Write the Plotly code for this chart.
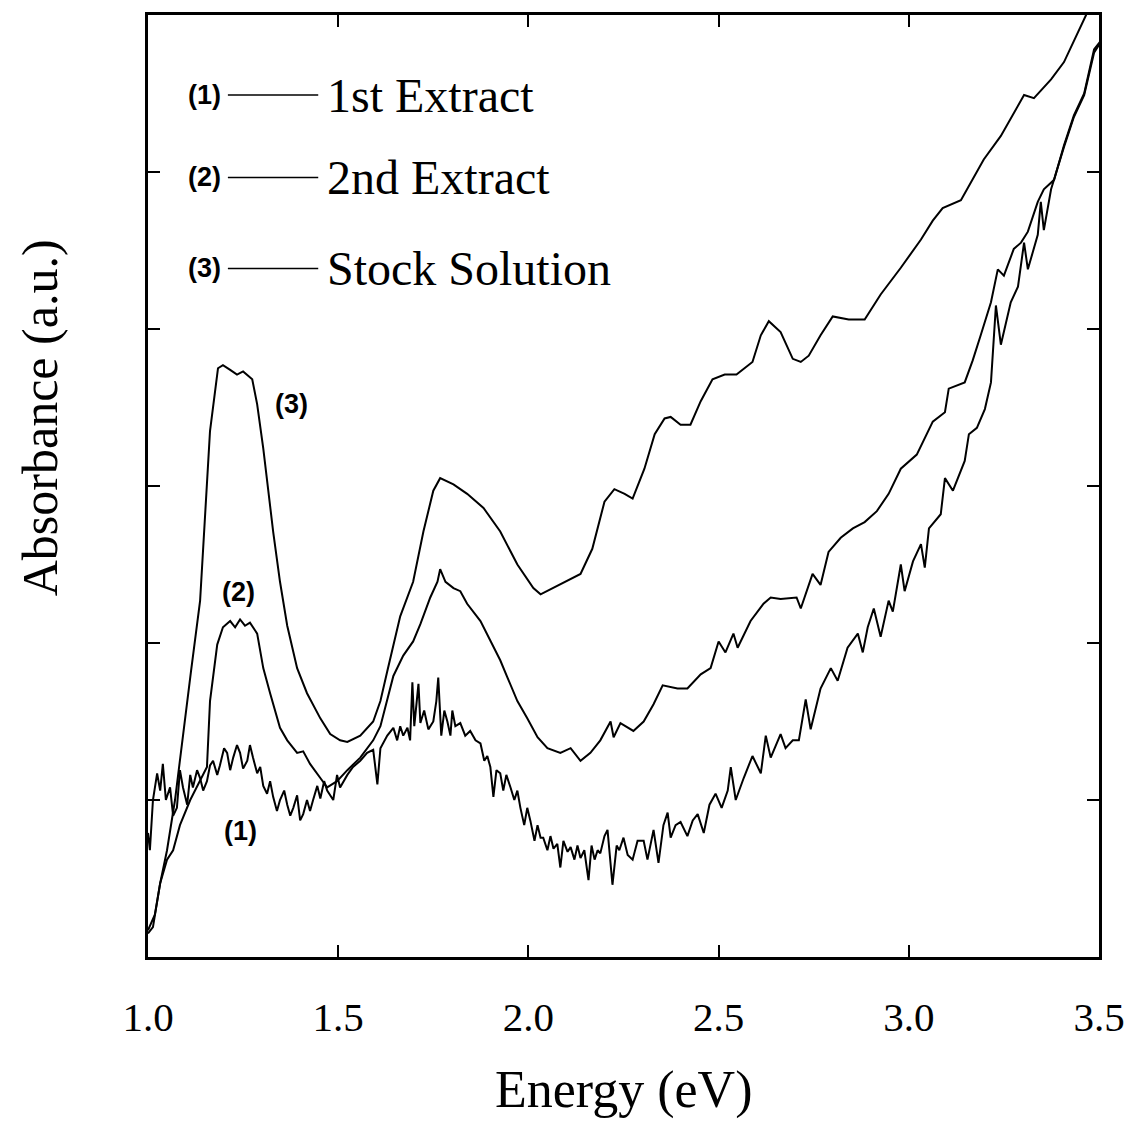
import plotly.graph_objects as go

# ---- data (Energy in eV, Absorbance in arbitrary units) ----
stock_E = [1.000, 1.018, 1.032, 1.050, 1.071, 1.092, 1.113, 1.137, 1.163, 1.184, 1.197, 1.216, 1.234, 1.250, 1.274,
           1.287, 1.303, 1.329, 1.347, 1.366, 1.392, 1.418, 1.453, 1.479, 1.505, 1.524, 1.558, 1.592, 1.611, 1.629,
           1.663, 1.697, 1.724, 1.750, 1.768, 1.803, 1.839, 1.882, 1.926, 1.971, 2.013, 2.032, 2.063, 2.095, 2.137,
           2.168, 2.200, 2.226, 2.253, 2.274, 2.305, 2.332, 2.358, 2.374, 2.400, 2.426, 2.453, 2.484, 2.516, 2.547,
           2.589, 2.611, 2.632, 2.663, 2.695, 2.716, 2.737, 2.768, 2.800, 2.842, 2.884, 2.926, 2.979, 3.032, 3.063,
           3.089, 3.137, 3.197, 3.242, 3.303, 3.329, 3.374, 3.408, 3.466, 3.505]
stock_A = [0.17, 0.27, 0.47, 0.68, 1.00, 1.42, 1.82, 2.27, 3.35, 3.75, 3.77, 3.74, 3.71, 3.73, 3.68,
           3.52, 3.24, 2.71, 2.39, 2.11, 1.84, 1.68, 1.52, 1.42, 1.38, 1.37, 1.41, 1.50, 1.63, 1.82,
           2.17, 2.39, 2.71, 2.97, 3.05, 3.01, 2.95, 2.86, 2.71, 2.50, 2.35, 2.31, 2.35, 2.39, 2.44,
           2.60, 2.90, 2.98, 2.95, 2.92, 3.11, 3.33, 3.43, 3.44, 3.39, 3.39, 3.54, 3.68, 3.71, 3.71,
           3.79, 3.96, 4.05, 3.98, 3.81, 3.79, 3.83, 3.96, 4.08, 4.06, 4.06, 4.22, 4.39, 4.57, 4.69,
           4.77, 4.82, 5.08, 5.23, 5.49, 5.47, 5.59, 5.70, 6.00, 6.17]

second_E = [1.000, 1.013, 1.032, 1.050, 1.066, 1.084, 1.111, 1.137, 1.155, 1.163, 1.182, 1.197, 1.216, 1.229, 1.242,
            1.255, 1.268, 1.287, 1.303, 1.321, 1.347, 1.366, 1.392, 1.408, 1.426, 1.453, 1.471, 1.497, 1.524, 1.558,
            1.592, 1.611, 1.629, 1.645, 1.671, 1.697, 1.716, 1.742, 1.761, 1.768, 1.782, 1.803, 1.821, 1.839, 1.874,
            1.900, 1.926, 1.945, 1.971, 1.997, 2.024, 2.050, 2.084, 2.111, 2.137, 2.163, 2.189, 2.216, 2.224, 2.242,
            2.276, 2.303, 2.329, 2.353, 2.392, 2.418, 2.453, 2.479, 2.500, 2.518, 2.539, 2.550, 2.584, 2.618, 2.637,
            2.663, 2.705, 2.716, 2.747, 2.768, 2.789, 2.821, 2.853, 2.884, 2.916, 2.947, 2.979, 3.021, 3.042, 3.063,
            3.095, 3.105, 3.147, 3.168, 3.189, 3.216, 3.234, 3.250, 3.276, 3.295, 3.313, 3.339, 3.355, 3.382, 3.408,
            3.434, 3.461, 3.487, 3.503]
second_A = [0.15, 0.19, 0.47, 0.62, 0.68, 0.84, 1.00, 1.12, 1.21, 1.63, 1.99, 2.10, 2.14, 2.10, 2.15,
            2.11, 2.13, 2.06, 1.84, 1.68, 1.46, 1.38, 1.30, 1.31, 1.23, 1.14, 1.08, 1.12, 1.19, 1.27,
            1.38, 1.47, 1.63, 1.79, 1.92, 2.01, 2.12, 2.29, 2.39, 2.47, 2.39, 2.35, 2.33, 2.25, 2.14,
            2.01, 1.89, 1.78, 1.63, 1.52, 1.40, 1.33, 1.30, 1.33, 1.25, 1.30, 1.38, 1.50, 1.40, 1.49,
            1.44, 1.50, 1.61, 1.73, 1.71, 1.71, 1.80, 1.84, 2.01, 1.94, 2.06, 1.97, 2.14, 2.25, 2.29,
            2.28, 2.29, 2.22, 2.44, 2.37, 2.58, 2.67, 2.73, 2.77, 2.84, 2.95, 3.11, 3.20, 3.30, 3.41,
            3.47, 3.62, 3.66, 3.80, 3.96, 4.17, 4.38, 4.34, 4.51, 4.55, 4.62, 4.81, 4.89, 4.95, 5.17,
            5.36, 5.50, 5.78, 5.83]

first_E = [1.000, 1.005, 1.013, 1.024, 1.032, 1.039, 1.047, 1.058, 1.066, 1.076, 1.084, 1.092, 1.103, 1.111, 1.118,
           1.129, 1.137, 1.145, 1.155, 1.163, 1.171, 1.182, 1.189, 1.200, 1.208, 1.216, 1.224, 1.234, 1.242, 1.250,
           1.261, 1.268, 1.276, 1.287, 1.295, 1.303, 1.313, 1.321, 1.329, 1.339, 1.347, 1.358, 1.366, 1.374, 1.382,
           1.392, 1.400, 1.408, 1.418, 1.426, 1.434, 1.445, 1.453, 1.463, 1.471, 1.487, 1.497, 1.505, 1.524, 1.539,
           1.558, 1.576, 1.592, 1.603, 1.611, 1.629, 1.645, 1.655, 1.663, 1.671, 1.682, 1.689, 1.695, 1.700, 1.711,
           1.716, 1.726, 1.737, 1.750, 1.758, 1.763, 1.771, 1.779, 1.787, 1.795, 1.800, 1.808, 1.821, 1.834, 1.847,
           1.861, 1.874, 1.884, 1.892, 1.900, 1.908, 1.916, 1.926, 1.934, 1.942, 1.953, 1.963, 1.971, 1.979, 1.989,
           1.997, 2.005, 2.016, 2.024, 2.032, 2.039, 2.050, 2.058, 2.066, 2.076, 2.084, 2.092, 2.103, 2.111, 2.121,
           2.129, 2.137, 2.147, 2.158, 2.166, 2.174, 2.182, 2.189, 2.200, 2.208, 2.221, 2.232, 2.239, 2.250, 2.261,
           2.274, 2.287, 2.303, 2.313, 2.329, 2.342, 2.355, 2.366, 2.374, 2.387, 2.400, 2.418, 2.432, 2.445, 2.461,
           2.476, 2.492, 2.508, 2.524, 2.532, 2.545, 2.566, 2.589, 2.611, 2.624, 2.637, 2.663, 2.676, 2.695, 2.711,
           2.729, 2.742, 2.768, 2.795, 2.813, 2.839, 2.866, 2.879, 2.892, 2.908, 2.926, 2.947, 2.958, 2.979, 2.989,
           3.011, 3.032, 3.042, 3.053, 3.084, 3.095, 3.116, 3.147, 3.158, 3.179, 3.200, 3.216, 3.229, 3.242, 3.268,
           3.287, 3.303, 3.313, 3.339, 3.347, 3.355, 3.374, 3.408, 3.434, 3.461, 3.487, 3.503]
first_A = [0.79, 0.68, 1.00, 1.17, 1.06, 1.23, 1.00, 1.08, 0.90, 0.95, 1.19, 1.08, 0.97, 1.16, 1.08,
           1.19, 1.14, 1.06, 1.12, 1.22, 1.25, 1.16, 1.22, 1.33, 1.30, 1.19, 1.27, 1.35, 1.30, 1.20,
           1.25, 1.35, 1.27, 1.17, 1.21, 1.09, 1.04, 1.12, 1.02, 0.93, 1.00, 1.06, 0.97, 0.90, 0.95,
           1.03, 0.87, 0.91, 1.00, 0.93, 1.00, 1.09, 1.01, 1.12, 1.06, 1.00, 1.16, 1.08, 1.16, 1.21,
           1.25, 1.30, 1.32, 1.10, 1.33, 1.41, 1.46, 1.38, 1.47, 1.41, 1.46, 1.38, 1.75, 1.47, 1.74,
           1.49, 1.57, 1.45, 1.50, 1.63, 1.78, 1.41, 1.57, 1.50, 1.41, 1.57, 1.47, 1.49, 1.41, 1.44,
           1.38, 1.36, 1.25, 1.28, 1.21, 1.02, 1.19, 1.17, 1.06, 1.16, 1.08, 1.00, 1.06, 0.95, 0.84,
           0.95, 0.87, 0.74, 0.84, 0.76, 0.76, 0.68, 0.77, 0.69, 0.72, 0.57, 0.74, 0.67, 0.70, 0.62,
           0.71, 0.63, 0.68, 0.49, 0.71, 0.62, 0.68, 0.66, 0.77, 0.81, 0.46, 0.71, 0.68, 0.76, 0.65,
           0.62, 0.74, 0.74, 0.62, 0.81, 0.60, 0.84, 0.92, 0.76, 0.84, 0.86, 0.77, 0.87, 0.91, 0.79,
           0.97, 1.04, 0.95, 1.06, 1.21, 1.00, 1.14, 1.28, 1.17, 1.41, 1.27, 1.42, 1.33, 1.38, 1.38,
           1.64, 1.45, 1.71, 1.84, 1.76, 1.97, 2.06, 1.94, 2.10, 2.22, 2.04, 2.27, 2.20, 2.50, 2.33,
           2.52, 2.63, 2.48, 2.73, 2.82, 3.05, 2.97, 3.16, 3.33, 3.37, 3.49, 3.66, 4.15, 3.90, 4.17,
           4.27, 4.55, 4.38, 4.60, 4.81, 4.63, 4.89, 5.16, 5.35, 5.49, 5.76, 5.82]

series_names = ["1st Extract", "2nd Extract", "Stock Solution"]
series_tags = ["(1)", "(2)", "(3)"]
x_tick_vals = [1.0, 1.5, 2.0, 2.5, 3.0, 3.5]
x_tick_text = ["1.0", "1.5", "2.0", "2.5", "3.0", "3.5"]
y_tick_vals = [0, 1, 2, 3, 4, 5, 6]

SERIF = "Liberation Serif, Times New Roman, serif"
SANS = "Liberation Sans, Arial, sans-serif"

fig = go.Figure()
for E, A, name in [(first_E, first_A, series_names[0]),
                   (second_E, second_A, series_names[1]),
                   (stock_E, stock_A, series_names[2])]:
    fig.add_trace(go.Scatter(x=E, y=A, mode="lines", name=name,
                             line=dict(color="black", width=2), showlegend=False))

# legend drawn as text + short line segments (paper coords)
leg_y = [0.915, 0.8275, 0.731]
for tag, name, yy in zip(series_tags, series_names, leg_y):
    fig.add_shape(type="line", xref="paper", yref="paper", x0=0.084, x1=0.179, y0=yy, y1=yy,
                  line=dict(color="black", width=1.5))
    fig.add_annotation(xref="paper", yref="paper", x=0.059, y=yy, text="<b>%s</b>" % tag,
                       showarrow=False, font=dict(family=SANS, size=27, color="black"),
                       xanchor="center", yanchor="middle")
    fig.add_annotation(xref="paper", yref="paper", x=0.186, y=yy, text=name,
                       showarrow=False, font=dict(family=SERIF, size=48, color="black"),
                       xanchor="left", yanchor="middle")

# curve labels
for tag, px, py in [("(3)", 0.151, 0.587), ("(2)", 0.095, 0.388), ("(1)", 0.097, 0.134)]:
    fig.add_annotation(xref="paper", yref="paper", x=px, y=py, text="<b>%s</b>" % tag,
                       showarrow=False, font=dict(family=SANS, size=27, color="black"),
                       xanchor="center", yanchor="middle")

# axis titles
fig.add_annotation(xref="paper", yref="paper", x=0.501, y=-0.141, text="Energy (eV)",
                   showarrow=False, font=dict(family=SERIF, size=52, color="black"),
                   xanchor="center", yanchor="middle")
fig.add_annotation(xref="paper", yref="paper", x=-0.1135, y=0.572, text="Absorbance (a.u.)",
                   textangle=-90, showarrow=False, font=dict(family=SERIF, size=50, color="black"),
                   xanchor="center", yanchor="middle", borderpad=0)

fig.update_xaxes(range=[1.0, 3.5], tickvals=x_tick_vals, ticktext=x_tick_text,
                 showline=True, linecolor="black", linewidth=2.5, mirror="ticks",
                 ticks="inside", ticklen=12, tickwidth=2, tickcolor="black",
                 showgrid=False, zeroline=False, ticklabelstandoff=22,
                 tickfont=dict(family=SERIF, size=41, color="black"))
fig.update_yaxes(range=[0, 6], tickvals=y_tick_vals, showticklabels=False,
                 showline=True, linecolor="black", linewidth=2.5, mirror="ticks",
                 ticks="inside", ticklen=12, tickwidth=2, tickcolor="black",
                 showgrid=False, zeroline=False)

fig.update_layout(width=1132, height=1122, margin=dict(l=140, r=41, t=4, b=173),
                  paper_bgcolor="white", plot_bgcolor="white")

fig.write_html("out.html")
